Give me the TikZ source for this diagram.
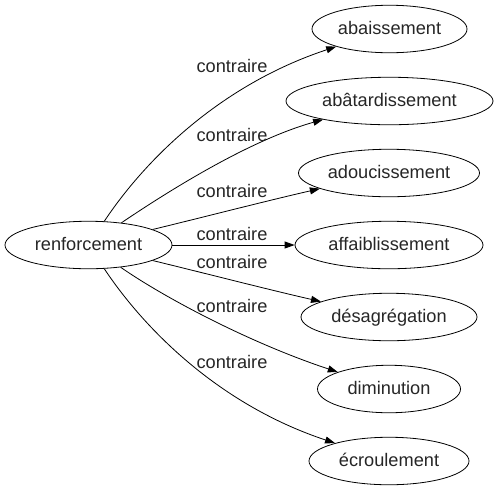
\documentclass[tikz,border=0pt]{standalone}
\usepackage{fontspec}
\setmainfont{Liberation Sans}
\usetikzlibrary{shapes.geometric,arrows.meta}
\begin{document}
\begin{tikzpicture}[x=1pt,y=-1pt,
  every node/.style={font=\fontsize{18.2}{20}\selectfont, text=black!85},
  word/.style={ellipse, draw, line width=0.8pt, inner sep=0pt, minimum height=47.5pt,
    text height=14pt, text depth=3pt},
  lbl/.style={anchor=base, inner sep=0pt},
  rel/.style={line width=0.8pt, -{Triangle[length=10pt,width=7pt]}}]
\useasboundingbox (0,0) rectangle (497,491);
\node[word, minimum width=167pt] (r) at (88.5,245) {renforcement};
\node[word, minimum width=155pt] (t1) at (389.5,29) {abaissement};
\node[word, minimum width=207pt] (t2) at (389.5,101) {abâtardissement};
\node[word, minimum width=181pt] (t3) at (389,173) {adoucissement};
\node[word, minimum width=188pt] (t4) at (389,245) {affaiblissement};
\node[word, minimum width=176pt] (t5) at (389,317) {désagrégation};
\node[word, minimum width=143pt] (t6) at (389,389) {diminution};
\node[word, minimum width=160pt] (t7) at (389,461) {écroulement};
\draw[rel] (r) .. controls (145,160) and (220,85) .. (t1);
\draw[rel] (r) .. controls (170,190) and (250,140) .. (t2);
\draw[rel] (r) .. controls (200,218) and (270,200) .. (t3);
\draw[rel] (r) -- (t4);
\draw[rel] (r) .. controls (200,272) and (270,290) .. (t5);
\draw[rel] (r) .. controls (165,298) and (250,343) .. (t6);
\draw[rel] (r) .. controls (145,330) and (220,405) .. (t7);
\node[lbl] (l1) at (232,72) {contraire};
\node[lbl] (l2) at (232,141) {contraire};
\node[lbl] (l3) at (232,197) {contraire};
\node[lbl] (l4) at (232,240) {contraire};
\node[lbl] (l5) at (232,268) {contraire};
\node[lbl] (l6) at (232,312) {contraire};
\node[lbl] (l7) at (232,368) {contraire};
\end{tikzpicture}
\end{document}
